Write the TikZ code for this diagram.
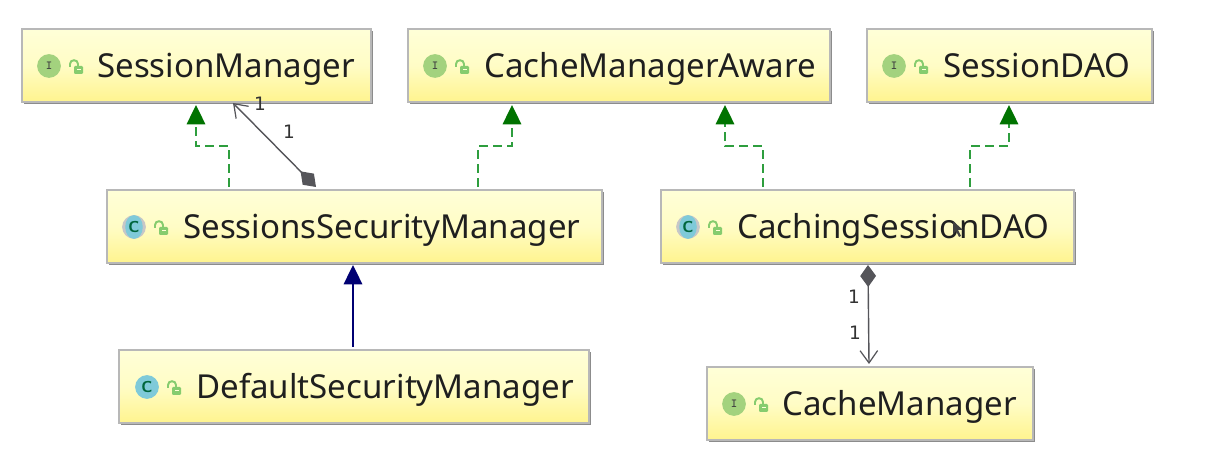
\documentclass[tikz,border=0pt]{standalone}
\usepackage{fontspec}
\setmainfont{Noto Sans}
\usetikzlibrary{arrows.meta,shadows,shapes.geometric}
\definecolor{boxtop}{HTML}{FFFFD8}
\definecolor{boxbot}{HTML}{FFF48E}
\definecolor{ifacegreen}{HTML}{A3D27E}
\definecolor{classblue}{HTML}{7FCAD9}
\definecolor{lockgreen}{HTML}{86CC6E}
\definecolor{realgreen}{HTML}{2E9E3E}
\definecolor{assocgrey}{HTML}{55555A}
\tikzset{
  umlbox/.style={draw=black!28, line width=0.6pt, top color=boxtop, bottom color=boxbot, middle color=boxtop!75!boxbot,
    inner sep=0pt, drop shadow={shadow xshift=1.3pt, shadow yshift=-1.3pt, opacity=.75, fill=black!60}},
  boxname/.style={anchor=base west, inner sep=0pt, text=black!88, font=\fontsize{18.8}{24}\selectfont},
  ifaceicon/.style={circle, fill=ifacegreen, minimum size=13.5pt, inner sep=0pt, text=black!75, font=\fontsize{7}{8}\ttfamily\bfseries},
  classicon/.style={circle, fill=classblue, minimum size=13.5pt, inner sep=0pt, text=black!60!blue!60!green, font=\fontsize{9}{9}\sffamily\bfseries},
  absring/.style={circle, fill=black!22, minimum size=13.5pt, inner sep=0pt},
  absicon/.style={ellipse, fill=classblue, minimum width=10pt, minimum height=13.5pt, inner sep=0pt, text=black!60!blue!60!green, font=\fontsize{9}{9}\sffamily\bfseries},
  mult/.style={inner sep=0pt, text=black!80, font=\fontsize{10.5}{12}\fontspec{DejaVu Sans}},
  realize/.style={draw=realgreen, line width=1.1pt, dash pattern=on 5pt off 3pt,
    -{Triangle[width=10.5pt,length=11pt,fill=green!45!black,color=green!45!black]}},
  extend/.style={draw=blue!45!black, line width=1.1pt, -{Triangle[width=10.5pt,length=11pt]}},
  compose/.style={draw=assocgrey, line width=0.8pt,
    {Diamond[width=9pt,length=12.5pt]}-{Straight Barb[length=7pt,width=10pt,line width=0.7pt]}},
  pics/lockicon/.style={code={
    \fill[lockgreen, rounded corners=0.6pt] (-2,-1) rectangle (7,7);
    \fill[boxtop] (0.5,2) rectangle (4.5,3.5);
    \draw[lockgreen, line width=1.1pt] (-6,0) -- (-6,-3) .. controls (-6,-8) and (2,-8) .. (2,-3) -- (2,-1);
  }}
}
\begin{document}
\begin{tikzpicture}[x=0.02cm,y=-0.02cm]
  \useasboundingbox[fill=white] (0,0) rectangle (1214,475);
  % boxes
  \node[umlbox, minimum width=349*0.02cm, minimum height=73*0.02cm] (sm) at (196.5,65.5) {};
  \node[umlbox, minimum width=422*0.02cm, minimum height=73*0.02cm] (cma) at (619,65.5) {};
  \node[umlbox, minimum width=285*0.02cm, minimum height=73*0.02cm] (sdao) at (1009.5,65.5) {};
  \node[umlbox, minimum width=495*0.02cm, minimum height=73*0.02cm] (ssm) at (354.5,226.5) {};
  \node[umlbox, minimum width=413*0.02cm, minimum height=73*0.02cm] (csdao) at (867.5,226.5) {};
  \node[umlbox, minimum width=470*0.02cm, minimum height=73*0.02cm] (dsm) at (354,386.5) {};
  \node[umlbox, minimum width=326*0.02cm, minimum height=73*0.02cm] (cm) at (870,403.5) {};
  % names
  \node[boxname] (smname) at (97,78) {SessionManager};
  \node[boxname] (cmaname) at (484,78) {CacheManagerAware};
  \node[boxname] (sdaoname) at (943,78) {SessionDAO};
  \node[boxname] (ssmname) at (183,239) {SessionsSecurityManager};
  \node[boxname] (csdaoname) at (737,239) {CachingSessionDAO};
  \node[boxname] (dsmname) at (196,399) {DefaultSecurityManager};
  \node[boxname] (cmname) at (782,416) {CacheManager};
  % icons
  \node[ifaceicon] (smi) at (49,66) {I};
  \node[ifaceicon] (cmai) at (435,66) {I};
  \node[ifaceicon] (sdaoi) at (894,66) {I};
  \node[absring] (ssmr) at (134,227) {};
  \node[absicon] (ssmi) at (134,227) {C};
  \node[absring] (csdaor) at (688,227) {};
  \node[absicon] (csdaoi) at (688,227) {C};
  \node[classicon] (dsmi) at (147,387) {C};
  \node[ifaceicon] (cmi) at (734,404) {I};
  \pic at (76,67) {lockicon};
  \pic at (462,67) {lockicon};
  \pic at (921,67) {lockicon};
  \pic at (161,228) {lockicon};
  \pic at (715,228) {lockicon};
  \pic at (174,388) {lockicon};
  \pic at (761,405) {lockicon};
  % connector ends
  \coordinate (sma) at (196,105);
  \coordinate (smb) at (233,103);
  \coordinate (cmaa) at (512,105);
  \coordinate (cmab) at (725,105);
  \coordinate (sdaoa) at (1009,105);
  \coordinate (ssma) at (229,187);
  \coordinate (ssmb) at (316,187);
  \coordinate (ssmc) at (478,187);
  \coordinate (ssmd) at (353,265);
  \coordinate (csdaoa) at (763,187);
  \coordinate (csdaob) at (970,187);
  \coordinate (csdaoc) at (868,265);
  \coordinate (dsma) at (353,347);
  \coordinate (cma2) at (869,364);
  % connectors
  \draw[realize] (ssma) -- ++(0,-41) -| (sma);
  \draw[realize] (ssmc) -- ++(0,-41) -| (cmaa);
  \draw[realize] (csdaoa) -- ++(0,-41) -| (cmab);
  \draw[realize] (csdaob) -- ++(0,-41) -| (sdaoa);
  \draw[extend] (dsma) -- (ssmd);
  \draw[compose] (ssmb) -- (smb);
  \draw[compose] (csdaoc) -- (cma2);
  % multiplicities
  \node[mult] (m1) at (260,104) {1};
  \node[mult] (m2) at (289,132) {1};
  \node[mult] (m3) at (854,297) {1};
  \node[mult] (m4) at (855,333) {1};
  % pointer
  \fill[black!75] (953,221) -- (953,234) -- (956,231) -- (959,237) -- (961,236) -- (958,230) -- (963,230) -- cycle;
\end{tikzpicture}
\end{document}
